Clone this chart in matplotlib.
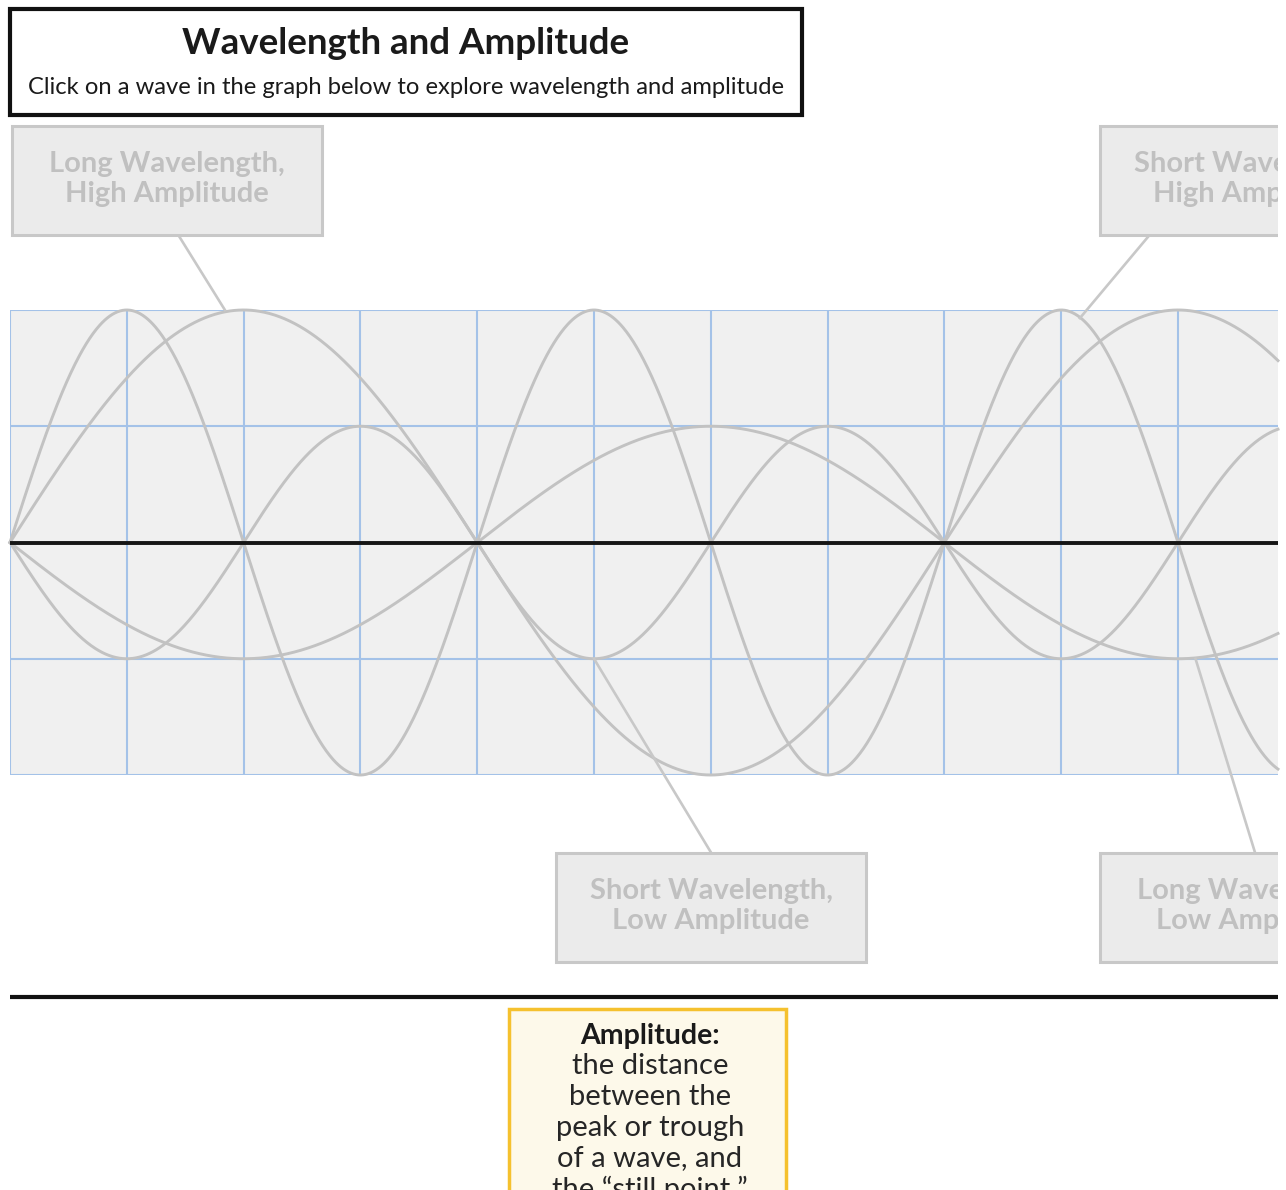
import numpy as np
import matplotlib.pyplot as plt
from matplotlib.patches import Rectangle

plt.rcParams['font.family'] = ['Lato', 'DejaVu Sans']

# ==========================================================
# DATA
# ==========================================================
# wave specs, in grid cells (x) and grid rows (y)
wave_names = ["Long Wavelength,\nHigh Amplitude", "Long Wavelength,\nLow Amplitude",
              "Short Wavelength,\nHigh Amplitude", "Short Wavelength,\nLow Amplitude"]
wavelengths = [8, 8, 4, 4]
amplitudes = [2, -1, 2, -1]

# label boxes (pixel centre), where the leader leaves the box (x offset)
# and the point on the wave each one points at (grid units)
label_centers = [(167, 180), (1255, 907), (1255, 180), (711, 907)]
leader_dx = [11, 0, -105, 0]
label_targets = [(1.84, 2.0), (10.15, -1.0), (9.16, 1.93), (5.0, -1.0)]

title = "Wavelength and Amplitude"
subtitle = "Click on a wave in the graph below to explore wavelength and amplitude"
amp_head = "Amplitude:"
amp_lines = ["the distance", "between the", "peak or trough", "of a wave, and",
             "the \u201cstill point.\u201d"]

# ==========================================================
# FIGURE
# ==========================================================
W, H = 1286, 1190
CLIP_X = 1278
fig = plt.figure(figsize=(W / 100, H / 100), dpi=100, facecolor='white')

# graph area in pixels
gx0, gy0, gy1 = 10, 310, 775
cell_x = 116.8
ncells = (CLIP_X - gx0) / cell_x

ax = fig.add_axes([gx0 / W, 1 - gy1 / H, (CLIP_X - gx0) / W, (gy1 - gy0) / H])
ax.set_xlim(0, ncells)
ax.set_ylim(-2, 2)
ax.set_facecolor('#f0f0f0')
for s in ax.spines.values():
    s.set_visible(False)
ax.set_xticks([])
ax.set_yticks([])

grid_c = '#a4c2e8'
for gx in range(0, int(ncells) + 1):
    ax.axvline(gx, color=grid_c, lw=1.5, zorder=1)
for gy in [-2, -1, 1, 2]:
    ax.axhline(gy, color=grid_c, lw=1.5, zorder=1)

x = np.linspace(0, ncells, 1500)
for wl, amp in zip(wavelengths, amplitudes):
    ax.plot(x, amp * np.sin(2 * np.pi * x / wl), color='#c2c2c2', lw=2.1,
            zorder=2, clip_on=False)
ax.axhline(0, color='#151515', lw=2.8, zorder=3)

# overlay in pixel coords
ov = fig.add_axes([0, 0, CLIP_X / W, 1])
ov.set_xlim(0, CLIP_X)
ov.set_ylim(H, 0)
ov.axis('off')
ov.patch.set_alpha(0)


def to_px(pt):
    disp = ax.transData.transform(pt)
    return ov.transData.inverted().transform(disp)


# title box
ov.add_patch(Rectangle((10, 9), 792, 106, fc='white', ec='#111111', lw=3))
ov.text(406, 43, title, ha='center', va='center', fontsize=26.5,
        fontweight='bold', color='#1a1a1a')
ov.text(406, 87, subtitle, ha='center', va='center', fontsize=17.1,
        color='#1a1a1a')

# label boxes
bw, bh = 310, 109
for name, (cx, cy), dx, tgt in zip(wave_names, label_centers, leader_dx, label_targets):
    tx, ty = to_px(tgt)
    sy = cy + bh / 2 if cy < 500 else cy - bh / 2
    ov.plot([cx + dx, tx], [sy, ty], color='#c8c8c8', lw=1.9, zorder=4)
    ov.add_patch(Rectangle((cx - bw / 2, cy - bh / 2), bw, bh, fc='#ebebeb',
                           ec='#c8c8c8', lw=2.2, zorder=5))
    ov.text(cx, cy - 1, name, ha='center', va='center', fontsize=21,
            fontweight='bold', color='#c0c0c0', linespacing=1.22, zorder=6,
            clip_on=True)

# separator
ov.plot([10, CLIP_X], [997, 997], color='#111111', lw=3, solid_capstyle='butt')

# amplitude definition box
ov.add_patch(Rectangle((509, 1009), 277, 240, fc='#fdf9ea', ec='#f5c12e',
                       lw=2.5, clip_on=True))
ov.text(650, 1036, amp_head, ha='center', va='center', fontsize=20.5,
        fontweight='bold', color='#1a1a1a')
for i, line in enumerate(amp_lines):
    ov.text(650, 1066 + i * 30.8, line, ha='center', va='center', fontsize=21,
            color='#262626', clip_on=True)

fig.savefig('out.png', dpi=100, facecolor='white')
